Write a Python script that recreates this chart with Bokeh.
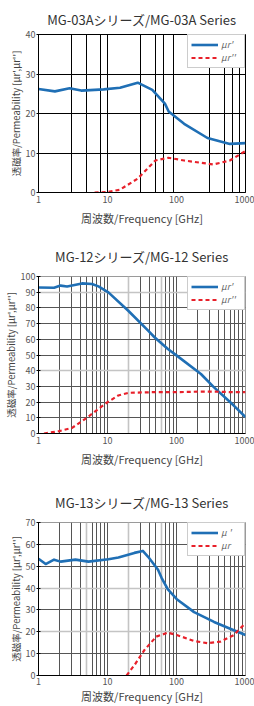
from bokeh.plotting import figure
from bokeh.layouts import column
from bokeh.models import FixedTicker, Grid, Legend, LegendItem, PrintfTickFormatter
from bokeh.embed import file_html
from bokeh.resources import INLINE

FONT = "Noto Sans CJK JP"

# ---------------- data ----------------
x_tick_values = [1, 10, 100, 1000]

# MG-03A
mg03a_title = "MG-03Aシリーズ/MG-03A Series"
mg03a_yticks = [0, 10, 20, 30, 40]
mg03a_legend = ["μr'", "μr''"]
mg03a_f_real = [1, 1.73, 2.82, 4.16, 8.8, 15.2, 27.4, 44.6, 67.9, 77, 129, 281, 593, 1000]
mg03a_mu_real = [26.2, 25.6, 26.4, 25.8, 26.1, 26.5, 27.8, 26.0, 22.5, 20.5, 17.4, 13.8, 12.3, 12.5]
mg03a_f_imag = [6.5, 9.7, 15.1, 27.4, 49.4, 76, 129, 281, 342, 593, 1000]
mg03a_mu_imag = [0.0, 0.1, 0.7, 3.5, 8.1, 8.8, 8.1, 7.3, 7.1, 8.1, 10.5]
mg03a_grid_x_dark = [3, 5, 8, 10, 30, 50, 65, 90, 300, 500, 650, 820]
mg03a_grid_x_light = []
mg03a_grid_y_dark = [10, 20, 30]
mg03a_grid_y_light = []

# MG-12
mg12_title = "MG-12シリーズ/MG-12 Series"
mg12_yticks = [0, 10, 20, 30, 40, 50, 60, 70, 80, 90, 100]
mg12_legend = ["μr'", "μr''"]
mg12_f_real = [1, 1.68, 2.09, 2.6, 4.27, 5.95, 7.4, 10.3, 20, 38.8, 48, 75, 101, 226, 350, 677, 1000]
mg12_mu_real = [93.0, 92.8, 94.2, 93.6, 95.6, 95.2, 93.7, 89.9, 78.2, 65.5, 61.3, 53.8, 49.6, 37.9, 29.4, 17.8, 10.4]
mg12_f_imag = [1.2, 1.98, 3.07, 4.76, 7.4, 10, 14.3, 20, 43, 100, 226, 350, 677, 1000]
mg12_mu_imag = [0.0, 1.5, 3.6, 9.3, 15.7, 19.9, 24.2, 25.9, 26.3, 26.3, 26.7, 26.7, 26.3, 26.3]
mg12_grid_x_dark = [2, 3, 4, 5, 6, 7, 8, 9, 10, 30, 40, 50, 70, 80, 90, 100, 200, 300, 400, 500, 600, 700, 800, 900]
mg12_grid_x_light = [20, 60]
mg12_grid_y_dark = [10, 20, 30, 50, 60, 70, 80]
mg12_grid_y_light = [40, 90]

# MG-13
mg13_title = "MG-13シリーズ/MG-13 Series"
mg13_yticks = [0, 10, 20, 30, 40, 50, 60, 70]
mg13_legend = ["μ '", "μr"]
mg13_f_real = [1, 1.27, 1.68, 2.09, 3.43, 5.3, 10.3, 14.4, 24.5, 32.5, 38.8, 54, 61, 75, 101, 180, 350, 677, 1000]
mg13_mu_real = [53.4, 51.0, 53.0, 52.1, 53.0, 52.1, 53.2, 54.0, 56.1, 57.0, 54.3, 48.4, 44.6, 39.4, 34.9, 29.0, 24.5, 20.7, 18.5]
mg13_f_imag = [18.9, 25, 34.6, 51, 75, 101, 180, 280, 436, 677, 1000]
mg13_mu_imag = [0.0, 5.1, 11.8, 17.8, 19.6, 18.5, 15.8, 14.8, 15.5, 18.5, 24.0]
mg13_grid_x_dark = [2, 3, 4, 6, 7, 8, 9, 10, 30, 40, 50, 70, 80, 90, 100, 200, 300, 400, 500, 600, 700, 800, 900]
mg13_grid_x_light = [5, 20, 60]
mg13_grid_y_dark = [10, 30, 50, 60]
mg13_grid_y_light = [20, 40]

BLUE = "#1f6fb5"
RED = "#e8202a"


def make_chart(title, f_r, m_r, f_i, m_i, yticks, legend_labels,
               gx_dark, gx_light, gy_dark, gy_light,
               height, top, bottom, left, right, black_frame,
               xlabel_standoff, title_standoff, xtick_standoff):
    p = figure(width=254, height=height, x_axis_type="log",
               x_range=(1, 1000), y_range=(yticks[0], yticks[-1]),
               output_backend="svg", toolbar_location=None,
               min_border_top=top, min_border_bottom=bottom,
               min_border_left=left, min_border_right=right)
    p.background_fill_color = "white"
    p.border_fill_color = "white"
    p.grid.visible = False
    p.outline_line_color = "black" if black_frame else "#9a9a9a"
    p.outline_line_width = 1

    p.title.text = title
    p.title.align = "center"
    p.title.text_font = FONT
    p.title.text_font_size = "13px"
    p.title.text_font_style = "normal"
    p.title.text_color = "#333333"
    p.title.standoff = title_standoff

    dark = "black" if black_frame else "#555555"
    if gx_dark:
        p.add_layout(Grid(dimension=0, ticker=FixedTicker(ticks=gx_dark),
                          grid_line_color=dark, grid_line_width=1))
    if gx_light:
        p.add_layout(Grid(dimension=0, ticker=FixedTicker(ticks=gx_light),
                          grid_line_color="#c4c4c4", grid_line_width=1.6))
    if gy_dark:
        p.add_layout(Grid(dimension=1, ticker=FixedTicker(ticks=gy_dark),
                          grid_line_color=dark, grid_line_width=1))
    if gy_light:
        p.add_layout(Grid(dimension=1, ticker=FixedTicker(ticks=gy_light),
                          grid_line_color="#c4c4c4", grid_line_width=1.6))

    p.xaxis.ticker = FixedTicker(ticks=x_tick_values, minor_ticks=[])
    p.xaxis.formatter = PrintfTickFormatter(format="%d")
    p.yaxis.ticker = FixedTicker(ticks=yticks, minor_ticks=[])
    for ax in (p.xaxis[0], p.yaxis[0]):
        ax.axis_line_color = "black"
        ax.major_tick_line_color = "black"
        ax.major_tick_in = 2
        ax.major_tick_out = 2
        ax.minor_tick_line_color = None
        ax.major_label_text_font = FONT
        ax.major_label_text_font_size = "9px"
        ax.major_label_text_color = "#555555"
        ax.major_label_standoff = 2
        ax.axis_label_text_font = FONT
        ax.axis_label_text_font_style = "normal"
        ax.axis_label_text_color = "#444444"
    p.xaxis.major_tick_out = 0
    p.xaxis.major_tick_in = 0
    p.xaxis.major_label_standoff = xtick_standoff
    p.xaxis.axis_label = "周波数/Frequency [GHz]"
    p.xaxis.axis_label_text_font_size = "11px"
    p.xaxis.axis_label_standoff = xlabel_standoff
    p.yaxis.axis_label = "透磁率/Permeability [μr',μr'']"
    p.yaxis.axis_label_text_font_size = "9.5px"
    p.yaxis.axis_label_standoff = 0
    p.yaxis.major_label_standoff = 1

    r1 = p.line(f_r, m_r, line_color=BLUE, line_width=2.6, line_join="round")
    r2 = p.line(f_i, m_i, line_color=RED, line_width=2.2, line_dash="4 3")

    leg = Legend(items=[LegendItem(label=legend_labels[0], renderers=[r1]),
                        LegendItem(label=legend_labels[1], renderers=[r2])],
                 location="top_right", margin=0, padding=3, spacing=0,
                 glyph_width=27, glyph_height=9, label_height=9,
                 label_standoff=3, label_text_font=FONT,
                 label_text_font_size="9px", label_text_font_style="italic",
                 label_text_color="#666666", border_line_color="#9a9a9a",
                 background_fill_color="white", background_fill_alpha=1)
    p.add_layout(leg)
    return p


p1 = make_chart(mg03a_title, mg03a_f_real, mg03a_mu_real, mg03a_f_imag, mg03a_mu_imag,
                mg03a_yticks, mg03a_legend, mg03a_grid_x_dark, mg03a_grid_x_light,
                mg03a_grid_y_dark, mg03a_grid_y_light,
                height=233, top=34, bottom=41, left=33, right=8,
                black_frame=True, xlabel_standoff=4, title_standoff=12,
                xtick_standoff=3)
p2 = make_chart(mg12_title, mg12_f_real, mg12_mu_real, mg12_f_imag, mg12_mu_imag,
                mg12_yticks, mg12_legend, mg12_grid_x_dark, mg12_grid_x_light,
                mg12_grid_y_dark, mg12_grid_y_light,
                height=246, top=43, bottom=46, left=36, right=9,
                black_frame=False, xlabel_standoff=4, title_standoff=21,
                xtick_standoff=3)
p3 = make_chart(mg13_title, mg13_f_real, mg13_mu_real, mg13_f_imag, mg13_mu_imag,
                mg13_yticks, mg13_legend, mg13_grid_x_dark, mg13_grid_x_light,
                mg13_grid_y_dark, mg13_grid_y_light,
                height=227, top=43, bottom=28, left=36, right=9,
                black_frame=False, xlabel_standoff=0, title_standoff=21,
                xtick_standoff=2)

layout = column(p1, p2, p3, spacing=0)
open("out.html", "w").write(file_html(layout, INLINE))
